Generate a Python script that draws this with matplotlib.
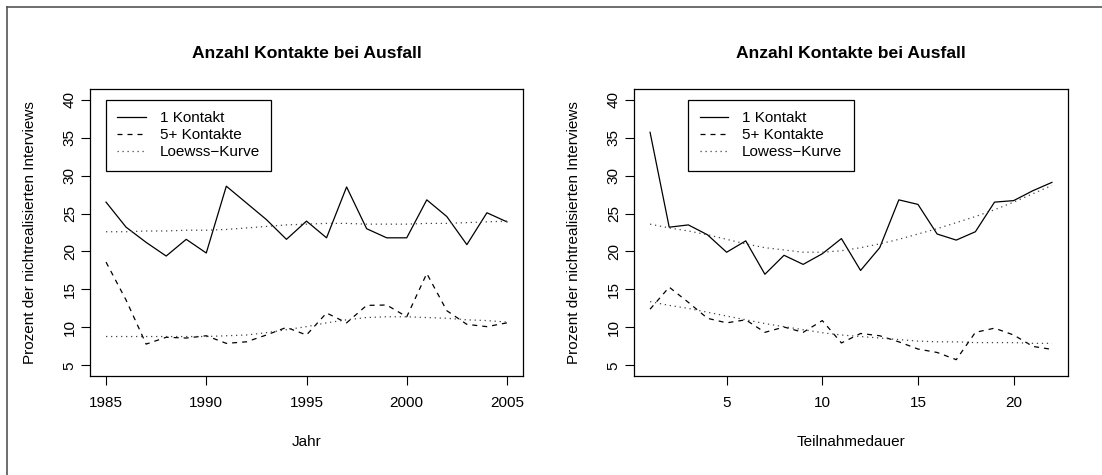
import numpy as np
import matplotlib.pyplot as plt
from matplotlib.lines import Line2D

plt.rcParams['font.family'] = ['Liberation Sans', 'DejaVu Sans']

# Panel 1: by year
jahr = list(range(1985, 2006))
kontakt1_jahr = [26.5, 23.2, 21.2, 19.4, 21.6, 19.8, 28.6, 26.4, 24.2, 21.6, 24.0,
                 21.8, 28.5, 23.0, 21.8, 21.8, 26.8, 24.6, 20.9, 25.1, 23.9]
kontakt5_jahr = [18.6, 13.6, 7.8, 8.7, 8.6, 8.9, 7.9, 8.1, 9.0, 10.0, 9.0,
                 11.9, 10.6, 12.9, 12.95, 11.4, 17.1, 12.2, 10.4, 10.1, 10.6]
lowess1_jahr = [22.6, 22.6, 22.7, 22.7, 22.8, 22.8, 22.9, 23.1, 23.3, 23.5, 23.6,
                23.7, 23.7, 23.6, 23.6, 23.6, 23.7, 23.7, 23.8, 23.9, 24.0]
lowess5_jahr = [8.8, 8.8, 8.8, 8.8, 8.8, 8.8, 8.9, 9.0, 9.3, 9.7, 10.1,
                10.6, 11.0, 11.3, 11.4, 11.4, 11.3, 11.2, 11.0, 10.9, 10.7]

# Panel 2: by duration of participation
dauer = list(range(1, 23))
kontakt1_dauer = [35.7, 23.2, 23.5, 22.2, 19.9, 21.4, 17.0, 19.5, 18.3, 19.7, 21.7,
                  17.5, 20.5, 26.8, 26.2, 22.3, 21.5, 22.6, 26.5, 26.7, 28.0, 29.1]
kontakt5_dauer = [12.4, 15.3, 13.3, 11.2, 10.6, 11.0, 9.35, 10.05, 9.35, 10.9, 7.95,
                  9.2, 8.9, 8.1, 7.15, 6.7, 5.75, 9.35, 9.9, 9.0, 7.5, 7.1]
lowess1_dauer = [23.6, 23.1, 22.7, 22.2, 21.6, 21.0, 20.5, 20.2, 19.9, 19.9, 20.1,
                 20.5, 21.0, 21.6, 22.3, 23.0, 23.8, 24.6, 25.5, 26.5, 27.6, 28.7]
lowess5_dauer = [13.4, 12.9, 12.5, 12.0, 11.5, 11.0, 10.5, 10.1, 9.7, 9.3, 9.0,
                 8.8, 8.6, 8.4, 8.2, 8.1, 8.1, 8.0, 8.0, 8.0, 7.9, 7.9]

W, H = 1102, 475
fig = plt.figure(figsize=(W / 100, H / 100), dpi=100)

def px_axes(x0, x1, y0, y1):
    return fig.add_axes([x0 / W, 1 - y1 / H, (x1 - x0) / W, (y1 - y0) / H])

ax1 = px_axes(90, 523, 89, 376)
ax2 = px_axes(634, 1068, 89, 376)

lw = 0.9
lowcol = '#444444'
fs = 11

panels = [
    (ax1, jahr, kontakt1_jahr, kontakt5_jahr, lowess1_jahr, lowess5_jahr,
     'Jahr', 'Loewss\u2212Kurve', [1985, 1990, 1995, 2000, 2005], (1984.2, 2005.8), 1985),
    (ax2, dauer, kontakt1_dauer, kontakt5_dauer, lowess1_dauer, lowess5_dauer,
     'Teilnahmedauer', 'Lowess\u2212Kurve', [5, 10, 15, 20], (0.16, 22.84), 3),
]

for ax, x, k1, k5, l1, l5, xlab, lowlab, xt, xl, legx in panels:
    h1, = ax.plot(x, k1, color='black', lw=lw, label='1 Kontakt')
    h2, = ax.plot(x, k5, color='black', lw=lw, ls=(0, (4, 4)), label='5+ Kontakte')
    h3, = ax.plot(x, l1, color=lowcol, lw=lw, ls=(0, (1, 3)), label=lowlab)
    ax.plot(x, l5, color=lowcol, lw=lw, ls=(0, (1, 3)))
    ax.set_xlim(*xl)
    ax.set_ylim(3.6, 41.4)
    ax.set_xticks(xt)
    ax.set_yticks([5, 10, 15, 20, 25, 30, 35, 40])
    ax.tick_params(axis='x', length=6.5, width=0.8, labelsize=fs, pad=8)
    ax.tick_params(axis='y', length=6.5, width=0.8, labelsize=fs, pad=3)
    for lab in ax.get_yticklabels():
        lab.set_rotation(90)
        lab.set_va('center')
    for s in ax.spines.values():
        s.set_linewidth(0.9)
    ax.set_xlabel(xlab, fontsize=fs, labelpad=18)
    ax.set_ylabel('Prozent der nichtrealisierten Interviews', fontsize=fs, labelpad=18.5)
    ax.set_title('Anzahl Kontakte bei Ausfall', fontsize=12.6, fontweight='bold', pad=22)
    leg = ax.legend(handles=[h1, h2, h3], loc='upper left',
                    bbox_to_anchor=(legx, 40), bbox_transform=ax.transData,
                    borderaxespad=0, fancybox=False, framealpha=1, edgecolor='black',
                    fontsize=fs, handlelength=1.85, handletextpad=0.9,
                    borderpad=0.75, labelspacing=0.2)
    leg.get_frame().set_linewidth(0.9)

# outer frame (top and left edges)
fig.add_artist(Line2D([7 / W, 1], [1 - 7 / H, 1 - 7 / H], color='#555555', lw=1.2))
fig.add_artist(Line2D([7 / W, 7 / W], [0, 1 - 7 / H], color='#555555', lw=1.2))

fig.savefig('out.png', dpi=100)
